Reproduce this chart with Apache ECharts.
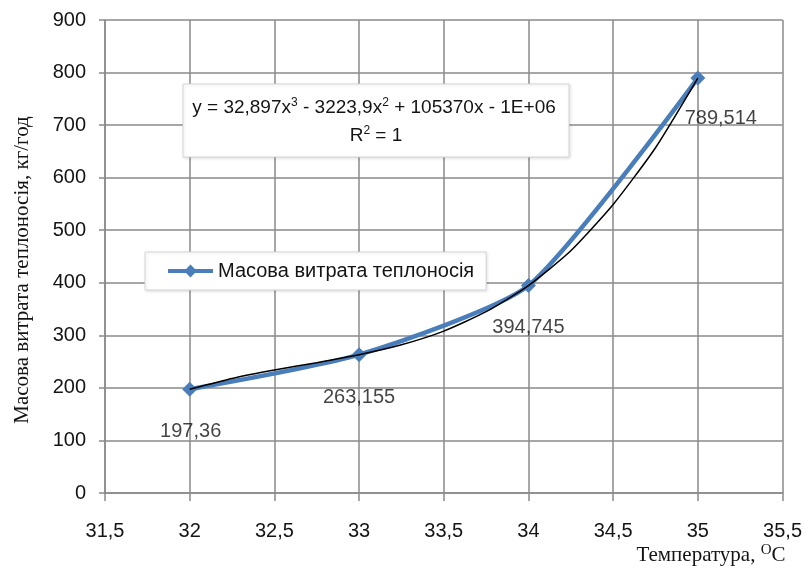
<!DOCTYPE html>
<html>
<head>
<meta charset="utf-8">
<script src="https://cdn.jsdelivr.net/npm/echarts@6/dist/echarts.min.js"></script>
<style>
html,body{margin:0;padding:0;background:#fff;}
#chart{width:805px;height:568px;}
</style>
</head>
<body>
<div id="chart"></div>
<script>
// Data
const xValues = [32, 33, 34, 35];
const flowValues = [197.36, 263.155, 394.745, 789.514];
const flowLabels = ['197,36', '263,155', '394,745', '789,514'];
// black trend line
const trendX = [32, 32.25, 32.5, 32.75, 33, 33.25, 33.5, 33.75, 34, 34.25, 34.5, 34.75, 35];
const trendY = [197.36, 218, 234, 248, 263.155, 282, 308, 345, 394.745, 461, 549, 657, 789.514];
const seriesName = 'Масова витрата теплоносія';
const yAxisTitle = 'Масова витрата теплоносія, кг/год';
const xAxisTitle = 'Температура, ';
const xMin = 31.5, xMax = 35.5, xStep = 0.5;
const yMin = 0, yMax = 900, yStep = 100;

const labelOffsets = [[1, 42], [0, 43], [0, 42], [23, 40]];
const FONT = 'Liberation Sans';
const TXT = '#141414';

const chart = echarts.init(document.getElementById('chart'));
const option = {
  backgroundColor: '#ffffff',
  animation: false,
  grid: { left: 105, right: 22, top: 20, bottom: 75, containLabel: false },
  xAxis: {
    type: 'value', min: xMin, max: xMax, interval: xStep,
    axisLine: { show: true, lineStyle: { color: '#8a8a8a', width: 1.5 } },
    axisTick: { show: true, length: 8, lineStyle: { color: '#8a8a8a', width: 1.5 } },
    splitLine: { show: true, lineStyle: { color: '#8a8a8a', width: 1.5 } },
    axisLabel: {
      margin: 28, color: TXT, fontSize: 20, fontFamily: FONT,
      formatter: v => String(v).replace('.', ',')
    }
  },
  yAxis: {
    type: 'value', min: yMin, max: yMax, interval: yStep,
    axisLine: { show: true, lineStyle: { color: '#8a8a8a', width: 1.5 } },
    axisTick: { show: true, length: 6, lineStyle: { color: '#8a8a8a', width: 1.5 } },
    splitLine: { show: true, lineStyle: { color: '#8a8a8a', width: 1.5 } },
    axisLabel: { margin: 19, color: TXT, fontSize: 20, fontFamily: FONT }
  },
  legend: {
    left: 145, top: 252, width: 340,
    padding: [9, 12, 9, 21],
    backgroundColor: '#fff',
    borderColor: '#d6d6d6', borderWidth: 1,
    shadowColor: 'rgba(0,0,0,0.12)', shadowBlur: 3, shadowOffsetX: 1, shadowOffsetY: 1,
    itemWidth: 45, itemHeight: 16, itemGap: 6,
    lineStyle: { width: 4 },
    textStyle: { color: TXT, fontSize: 20, fontFamily: FONT },
    data: [seriesName]
  },
  series: [
    {
      name: seriesName, type: 'line',
      data: xValues.map((x, i) => [x, flowValues[i]]),
      smooth: 0.2,
      symbol: 'diamond', symbolSize: 15,
      itemStyle: { color: '#4a7ebb' },
      lineStyle: { color: '#4a7ebb', width: 4.5 },
      label: { show: false },
      z: 2
    },
    {
      name: 'labels', type: 'scatter',
      data: xValues.map((x, i) => ({
        value: [x, flowValues[i]],
        label: { offset: labelOffsets[i], formatter: flowLabels[i] }
      })),
      symbolSize: 0,
      silent: true,
      label: { show: true, position: 'inside', color: TXT, fontSize: 20, fontFamily: FONT },
      z: 4
    },
    {
      name: 'trend', type: 'line',
      data: trendX.map((x, i) => [x, trendY[i]]),
      smooth: 0.2, showSymbol: false, symbol: 'none',
      lineStyle: { color: '#000', width: 1.5 },
      silent: true,
      z: 3
    }
  ],
  graphic: [
    {
      type: 'rect', shape: { x: 183, y: 84, width: 386, height: 73 },
      style: { fill: '#fff', stroke: '#d6d6d6', lineWidth: 1, shadowColor: 'rgba(0,0,0,0.12)', shadowBlur: 3, shadowOffsetX: 1, shadowOffsetY: 1 },
      z: 10
    },
    {
      type: 'text', x: 374, y: 108, z: 11,
      style: {
        text: '{n|y = 32,897x}{s|3}{n| - 3223,9x}{s|2}{n| + 105370x - 1E+06}',
        align: 'center', verticalAlign: 'middle',
        rich: {
          n: { fontSize: 19, fontFamily: FONT, fill: TXT },
          s: { fontSize: 12, fontFamily: FONT, fill: TXT, padding: [0, 0, 10, 0] }
        }
      }
    },
    {
      type: 'text', x: 376, y: 136, z: 11,
      style: {
        text: '{n|R}{s|2}{n| = 1}',
        align: 'center', verticalAlign: 'middle',
        rich: {
          n: { fontSize: 19, fontFamily: FONT, fill: TXT },
          s: { fontSize: 12, fontFamily: FONT, fill: TXT, padding: [0, 0, 10, 0] }
        }
      }
    },
    {
      type: 'text', x: 22, y: 270, rotation: Math.PI / 2, z: 11,
      style: {
        text: yAxisTitle, align: 'center', verticalAlign: 'middle',
        fontSize: 21, fontFamily: 'Liberation Serif', fill: TXT
      }
    },
    {
      type: 'text', x: 711, y: 555, z: 11,
      style: {
        text: '{n|' + xAxisTitle + '}{s|O}{n|C}',
        align: 'center', verticalAlign: 'middle',
        rich: {
          n: { fontSize: 21, fontFamily: 'Liberation Serif', fill: TXT },
          s: { fontSize: 15, fontFamily: 'Liberation Serif', fill: TXT, padding: [0, 0, 10, 0] }
        }
      }
    }
  ]
};
chart.setOption(option);
</script>
</body>
</html>
